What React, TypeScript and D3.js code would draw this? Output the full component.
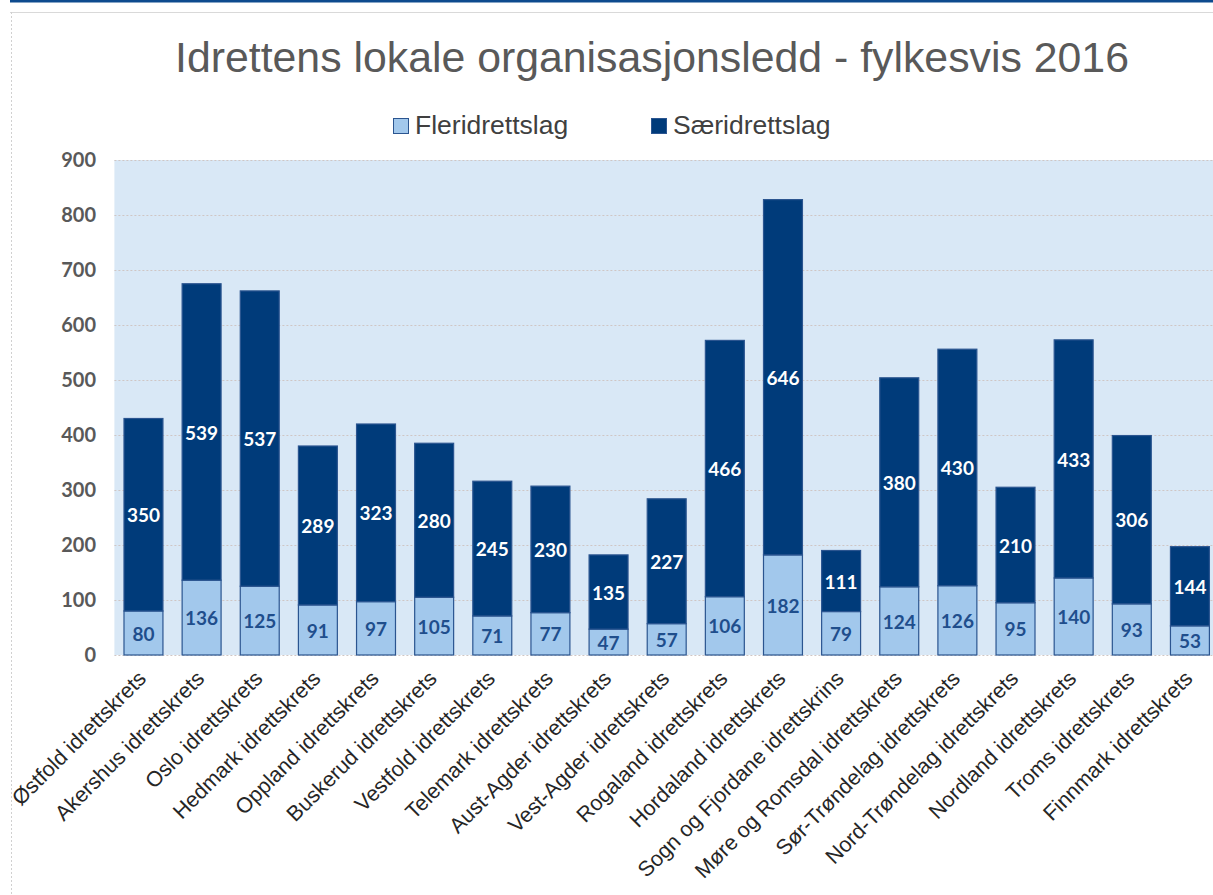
import { useEffect, useRef } from 'react';
import * as d3 from 'd3';

// Data
const categories = [
  'Østfold idrettskrets', 'Akershus idrettskrets', 'Oslo idrettskrets', 'Hedmark idrettskrets',
  'Oppland idrettskrets', 'Buskerud idrettskrets', 'Vestfold idrettskrets', 'Telemark idrettskrets',
  'Aust-Agder idrettskrets', 'Vest-Agder idrettskrets', 'Rogaland idrettskrets', 'Hordaland idrettskrets',
  'Sogn og Fjordane idrettskrins', 'Møre og Romsdal idrettskrets', 'Sør-Trøndelag idrettskrets',
  'Nord-Trøndelag idrettskrets', 'Nordland idrettskrets', 'Troms idrettskrets', 'Finnmark idrettskrets'
];
const fleridrettslag = [80, 136, 125, 91, 97, 105, 71, 77, 47, 57, 106, 182, 79, 124, 126, 95, 140, 93, 53];
const saeridrettslag = [350, 539, 537, 289, 323, 280, 245, 230, 135, 227, 466, 646, 111, 380, 430, 210, 433, 306, 144];
const yTicks = [0, 100, 200, 300, 400, 500, 600, 700, 800, 900];
const seriesNames = ['Fleridrettslag', 'Særidrettslag'];

const W = 1213;
const H = 895;
const LIGHT = '#a2c8ec';
const DARK = '#003b7a';
const EDGE = '#2b5590';
const SANS = '"Liberation Sans", Arial, sans-serif';
const NUM = 'Lato, "Open Sans", sans-serif';

export default function App() {
  const svgRef = useRef<SVGSVGElement | null>(null);

  useEffect(() => {
    if (!svgRef.current) return;
    const svg = d3.select(svgRef.current);
    svg.selectAll('*').remove();

    const plot = { left: 114.4, right: 1219, top: 160, bottom: 655 };

    // outer frame
    svg.append('rect').attr('x', 10).attr('y', 0).attr('width', W).attr('height', 2.5).attr('fill', '#0d4a8e');
    svg.append('line').attr('x1', 10).attr('x2', W).attr('y1', 12.5).attr('y2', 12.5)
      .attr('stroke', '#d9d9d9').attr('stroke-width', 1);
    svg.append('line').attr('x1', 11.5).attr('x2', 11.5).attr('y1', 12).attr('y2', H)
      .attr('stroke', '#d0d0d0').attr('stroke-width', 1).attr('stroke-dasharray', '2,2');

    // title
    svg.append('text')
      .attr('x', 652).attr('y', 72)
      .attr('text-anchor', 'middle')
      .style('font-family', SANS).style('font-size', '42.8px').style('fill', '#595959')
      .text('Idrettens lokale organisasjonsledd - fylkesvis 2016');

    // legend
    const legendX = [393, 651];
    seriesNames.forEach((name, i) => {
      svg.append('rect')
        .attr('x', legendX[i] + 0.5).attr('y', 118.5).attr('width', 15).attr('height', 15)
        .attr('fill', i === 0 ? LIGHT : DARK).attr('stroke', EDGE).attr('stroke-width', 1);
      svg.append('text')
        .attr('x', legendX[i] + 22).attr('y', 134)
        .style('font-family', SANS).style('font-size', '26.5px').style('fill', '#404040')
        .text(name);
    });

    const x = d3.scaleBand()
      .domain(categories)
      .range([plot.left, plot.right])
      .paddingInner(0.33)
      .paddingOuter(0.165);

    const y = d3.scaleLinear()
      .domain([0, 900])
      .range([plot.bottom, plot.top]);

    // plot background
    svg.append('rect')
      .attr('x', plot.left).attr('y', plot.top)
      .attr('width', plot.right - plot.left).attr('height', plot.bottom - plot.top)
      .attr('fill', '#d9e8f6');

    // grid
    svg.append('g')
      .selectAll('line')
      .data(yTicks)
      .enter().append('line')
      .attr('x1', plot.left).attr('x2', plot.right)
      .attr('y1', d => y(d) + 0.5).attr('y2', d => y(d) + 0.5)
      .attr('stroke', '#cfc6c4').attr('stroke-width', 1).attr('stroke-dasharray', '2,2');

    // y axis labels
    svg.append('g')
      .selectAll('text')
      .data(yTicks)
      .enter().append('text')
      .attr('x', 96).attr('y', d => y(d))
      .attr('dy', '0.36em')
      .attr('text-anchor', 'end')
      .style('font-family', NUM).style('font-weight', 700).style('font-size', '20px').style('fill', '#595959')
      .text(d => d);

    const rows = categories.map((c, i) => ({
      cat: c, fl: fleridrettslag[i], sa: saeridrettslag[i]
    }));

    // bars
    const bars = svg.append('g');
    bars.selectAll('.fl')
      .data(rows)
      .enter().append('rect')
      .attr('class', 'fl')
      .attr('x', d => x(d.cat)!)
      .attr('y', d => y(d.fl))
      .attr('width', x.bandwidth())
      .attr('height', d => y(0) - y(d.fl))
      .attr('fill', LIGHT).attr('stroke', EDGE).attr('stroke-width', 1.2);

    bars.selectAll('.sa')
      .data(rows)
      .enter().append('rect')
      .attr('class', 'sa')
      .attr('x', d => x(d.cat)!)
      .attr('y', d => y(d.fl + d.sa))
      .attr('width', x.bandwidth())
      .attr('height', d => y(d.fl) - y(d.fl + d.sa))
      .attr('fill', DARK).attr('stroke', EDGE).attr('stroke-width', 1.2);

    // data labels
    const labels = svg.append('g')
      .style('font-family', NUM).style('font-weight', 700).style('font-size', '19px')
      .attr('text-anchor', 'middle');
    labels.selectAll('.fl-label')
      .data(rows)
      .enter().append('text')
      .attr('x', d => x(d.cat)! + x.bandwidth() / 2)
      .attr('y', d => (y(0) + y(d.fl)) / 2)
      .attr('dy', '0.4em')
      .style('fill', '#1f4e8c')
      .text(d => d.fl);
    labels.selectAll('.sa-label')
      .data(rows)
      .enter().append('text')
      .attr('x', d => x(d.cat)! + x.bandwidth() / 2)
      .attr('y', d => (y(d.fl) + y(d.fl + d.sa)) / 2)
      .attr('dy', '0.4em')
      .style('fill', '#ffffff')
      .text(d => d.sa);

    // x axis category labels, rotated
    svg.append('g')
      .selectAll('text')
      .data(categories)
      .enter().append('text')
      .attr('transform', d => `translate(${x(d)! + x.bandwidth() / 2 + 4},${680}) rotate(-45)`)
      .attr('text-anchor', 'end')
      .style('font-family', SANS).style('font-size', '21.5px').style('fill', '#262626')
      .text(d => d);
  }, []);

  return (
    <svg
      ref={svgRef}
      width={W}
      height={H}
      style={{ position: 'absolute', left: 0, top: 0, background: '#ffffff' }}
    />
  );
}
